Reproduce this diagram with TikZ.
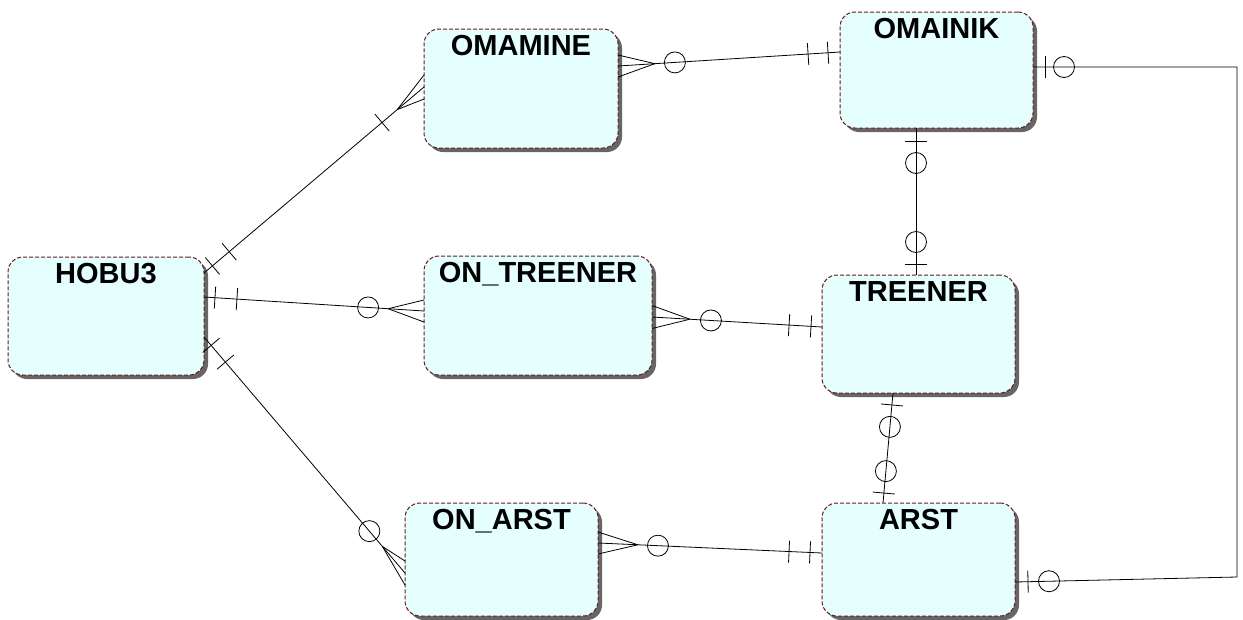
\documentclass[tikz,border=0pt]{standalone}
\usepackage{fontspec}
\setmainfont{Liberation Sans}
\usetikzlibrary{calc,shadows}
\definecolor{entfill}{RGB}{229,255,255}
\definecolor{entline}{RGB}{105,25,25}
\tikzset{
  ent/.style={draw=entline, fill=entfill, dash pattern=on 4pt off 2pt, line width=1pt,
    rounded corners=15pt, inner sep=0pt, outer sep=0pt, anchor=north west,
    general shadow={fill=black!60, shadow xshift=4pt, shadow yshift=-4pt}},
  ttl/.style={font=\bfseries\fontsize{29}{32}\selectfont, anchor=base, yshift=-26pt, inner sep=0pt},
  conn/.style={line width=0.8pt, draw=black},
}
\newcommand\erbar[3]{\path ($(#1)!#3!(#2)$) coordinate (mk);
  \draw[conn] ($(mk)!11pt!90:(#2)$) -- ($(mk)!11pt!-90:(#2)$);}
\newcommand\ercirc[3]{\draw[conn] ($(#1)!#3!(#2)$) circle[radius=10.5pt];}
\newcommand\ercrow[4]{\path ($(#1)!#3!(#2)$) coordinate (cv);
  \draw[conn] (cv) -- ($(#1)+(#4)$) (cv) -- ($(#1)-(#4)$);}
\begin{document}
\begin{tikzpicture}[x=1pt,y=-1pt]
\useasboundingbox (0,0) rectangle (1243,619);
\node[ent, minimum width=196pt, minimum height=118pt, label={[ttl]north:HOBU3}] (hobu) at (8,257) {};
\node[ent, minimum width=194pt, minimum height=119pt, label={[ttl]north:OMAMINE}] (omamine) at (424,29) {};
\node[ent, minimum width=193pt, minimum height=116pt, label={[ttl]north:OMAINIK}] (omainik) at (840,12) {};
\node[ent, minimum width=228pt, minimum height=119pt, label={[ttl]north:ON\_TREENER}] (ontreener) at (424,256) {};
\node[ent, minimum width=193pt, minimum height=118pt, label={[ttl]north:TREENER}] (treener) at (822,275) {};
\node[ent, minimum width=193pt, minimum height=113pt, label={[ttl]north:ON\_ARST}] (onarst) at (405,503) {};
\node[ent, minimum width=193pt, minimum height=113pt, label={[ttl]north:ARST}] (arst) at (822,503) {};

\coordinate (a1) at ($(hobu.north east)+(0,16)$);
\coordinate (b1) at ($(omamine.north west)+(0,58)$);
\coordinate (a2) at ($(hobu.north east)+(0,40)$);
\coordinate (b2) at ($(ontreener.north west)+(0,55)$);
\coordinate (a3) at ($(hobu.north east)+(0,80)$);
\coordinate (b3) at ($(onarst.north west)+(0,70)$);
\coordinate (a4) at ($(omamine.north east)+(0,37)$);
\coordinate (b4) at ($(omainik.north west)+(0,40)$);
\coordinate (a5) at ($(omainik.south west)+(76,0)$);
\coordinate (b5) at ($(treener.north west)+(94,0)$);
\coordinate (a6) at ($(ontreener.north east)+(0,61)$);
\coordinate (b6) at ($(treener.north west)+(0,52)$);
\coordinate (a7) at ($(treener.south west)+(71,0)$);
\coordinate (b7) at ($(arst.north west)+(61,0)$);
\coordinate (a8) at ($(omainik.north east)+(0,55)$);
\coordinate (b8) at ($(arst.north east)+(0,79)$);
\coordinate (k1) at ($(a8)+(204,0)$);
\coordinate (k2) at ($(k1)+(0,510)$);
\coordinate (a9) at ($(onarst.north east)+(0,40)$);
\coordinate (b9) at ($(arst.north west)+(0,50)$);

\draw[conn] (a1) -- (b1);
\draw[conn] (a2) -- (b2);
\draw[conn] (a3) -- (b3);
\draw[conn] (a4) -- (b4);
\draw[conn] (a5) -- (b5);
\draw[conn] (a6) -- (b6);
\draw[conn] (a7) -- (b7);
\draw[conn] (a8) -- (k1) -- (k2) -- (b8);
\draw[conn] (a9) -- (b9);

% 1 HOBU3 - OMAMINE
\erbar{a1}{b1}{11pt} \erbar{a1}{b1}{33pt}
\ercrow{b1}{a1}{35pt}{0,12} \erbar{b1}{a1}{55pt}
% 2 HOBU3 - ON_TREENER
\erbar{a2}{b2}{11pt} \erbar{a2}{b2}{33pt}
\ercrow{b2}{a2}{36pt}{0,11} \ercirc{b2}{a2}{56pt}
% 3 HOBU3 - ON_ARST
\erbar{a3}{b3}{11pt} \erbar{a3}{b3}{33pt}
\ercrow{b3}{a3}{35pt}{0,12} \ercirc{b3}{a3}{55pt}
% 4 OMAMINE - OMAINIK
\ercrow{a4}{b4}{37pt}{0,11} \ercirc{a4}{b4}{57pt}
\erbar{b4}{a4}{12pt} \erbar{b4}{a4}{32pt}
% 5 OMAINIK - TREENER
\erbar{a5}{b5}{13pt} \ercirc{a5}{b5}{35pt}
\erbar{b5}{a5}{11pt} \ercirc{b5}{a5}{33pt}
% 6 ON_TREENER - TREENER
\ercrow{a6}{b6}{38pt}{0,11.5} \ercirc{a6}{b6}{59pt}
\erbar{b6}{a6}{11pt} \erbar{b6}{a6}{33pt}
% 7 TREENER - ARST
\erbar{a7}{b7}{12pt} \ercirc{a7}{b7}{34pt}
\erbar{b7}{a7}{10pt} \ercirc{b7}{a7}{32pt}
% 8 OMAINIK - ARST
\erbar{a8}{k1}{12pt} \ercirc{a8}{k1}{31pt}
\erbar{b8}{k2}{13pt} \ercirc{b8}{k2}{34pt}
% 9 ON_ARST - ARST
\ercrow{a9}{b9}{40pt}{0,11} \ercirc{a9}{b9}{60pt}
\erbar{b9}{a9}{12pt} \erbar{b9}{a9}{33pt}
\end{tikzpicture}
\end{document}
